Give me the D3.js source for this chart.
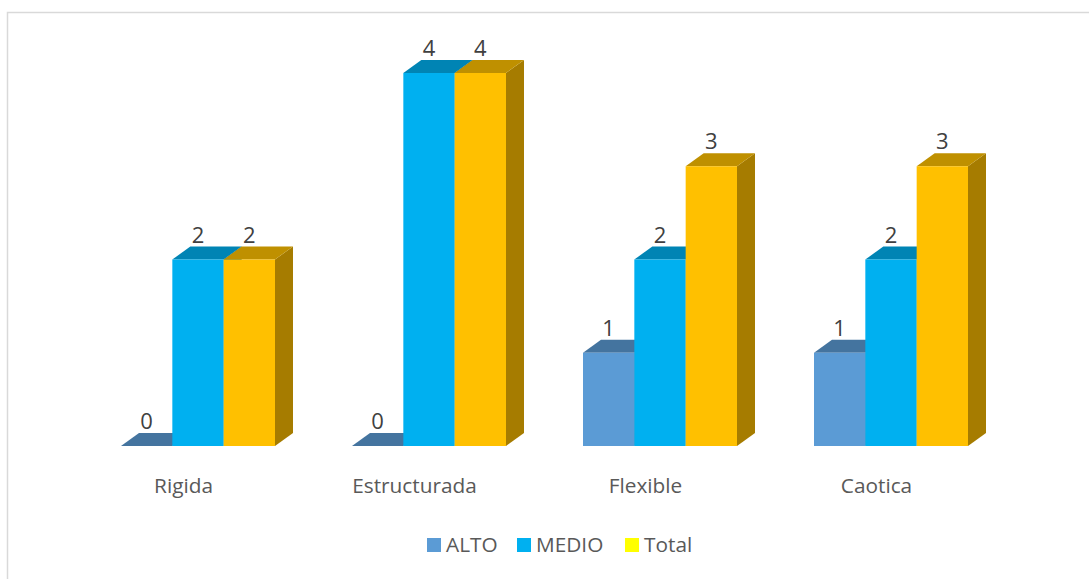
<!DOCTYPE html>
<html>
<head>
<meta charset="utf-8">
<script src="https://cdn.jsdelivr.net/npm/d3@7"></script>
<style>
  html, body { margin: 0; padding: 0; background: #fff; overflow: hidden; }
  svg { display: block; font-family: "Open Sans", sans-serif; }
</style>
</head>
<body>
<div id="chart"></div>
<script>
const categories = ["Rigida", "Estructurada", "Flexible", "Caotica"];
const seriesNames = ["ALTO", "MEDIO", "Total"];
const alto = [0, 0, 1, 1];
const medio = [2, 4, 2, 2];
const total = [2, 4, 3, 3];
const seriesValues = [alto, medio, total];

const frontColors = ["#5b9bd5", "#00b0f0", "#ffc000"];
const topColors = ["#44749f", "#0084b4", "#bf9000"];
const sideColors = ["#3a6490", "#006f98", "#a67c00"];
const legendColors = ["#5b9bd5", "#00b0f0", "#ffff00"];

const width = 1089, height = 579;
const baseY = 446, topY = 73;
const depthX = 18, depthY = 13;

const svg = d3.select("#chart").append("svg")
  .attr("width", width)
  .attr("height", height);

// chart frame, only the top and left edges show in the picture
svg.append("path")
  .attr("d", `M7.5,${height}V12.5H${width}`)
  .attr("fill", "none")
  .attr("stroke", "#d9d9d9")
  .attr("stroke-width", 1.5);

const x = d3.scaleBand().domain(categories).range([121, 968]).paddingInner(1 / 3);
const xInner = d3.scaleBand().domain(d3.range(seriesNames.length)).range([0, x.bandwidth()]);
const y = d3.scaleLinear().domain([0, 4]).range([baseY, topY]);

const bars = [];
categories.forEach((c, i) => {
  seriesValues.forEach((vals, s) => bars.push({ cat: c, s: s, value: vals[i] }));
});

const bar = svg.append("g").selectAll("g")
  .data(bars)
  .join("g")
  .attr("transform", d => `translate(${x(d.cat) + xInner(d.s)},0)`);

const w = xInner.bandwidth();

bar.append("path")
  .attr("d", d => `M${w},${y(d.value)}l${depthX},${-depthY}V${baseY - depthY}l${-depthX},${depthY}Z`)
  .attr("fill", d => sideColors[d.s]);

bar.append("path")
  .attr("d", d => `M0,${y(d.value)}l${depthX},${-depthY}h${w}l${-depthX},${depthY}Z`)
  .attr("fill", d => topColors[d.s]);

bar.filter(d => d.value > 0).append("rect")
  .attr("y", d => y(d.value))
  .attr("width", w)
  .attr("height", d => baseY - y(d.value))
  .attr("fill", d => frontColors[d.s]);

svg.append("g").selectAll("text")
  .data(bars)
  .join("text")
  .attr("x", d => x(d.cat) + xInner(d.s) + w / 2)
  .attr("y", d => y(d.value) - 17)
  .attr("text-anchor", "middle")
  .attr("font-size", 22)
  .attr("fill", "#404040")
  .text(d => d.value);

const axis = svg.append("g")
  .attr("transform", `translate(-14.5,${baseY})`)
  .call(d3.axisBottom(x).tickSize(0).tickPadding(32));
axis.select(".domain").remove();
axis.selectAll("text")
  .attr("font-family", "\"Open Sans\", sans-serif")
  .attr("font-size", 20.8)
  .attr("fill", "#595959");

// legend
const legendX = d3.scaleOrdinal().domain(seriesNames).range([427, 517, 625]);
const legend = svg.append("g").selectAll("g")
  .data(seriesNames)
  .join("g")
  .attr("transform", d => `translate(${legendX(d)},538)`);

legend.append("rect")
  .attr("width", 14)
  .attr("height", 14)
  .attr("fill", (d, i) => legendColors[i]);

legend.append("text")
  .attr("x", 19)
  .attr("y", 14)
  .attr("font-size", 20.8)
  .attr("fill", "#595959")
  .text(d => d);
</script>
</body>
</html>
